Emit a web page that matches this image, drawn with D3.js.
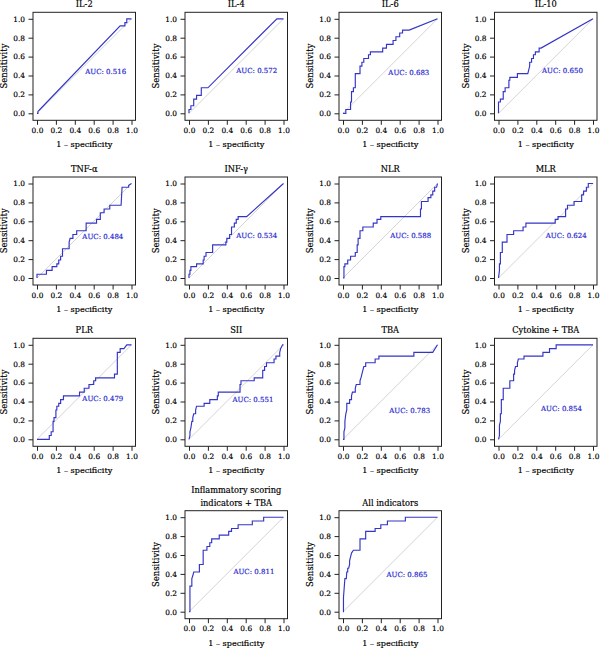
<!DOCTYPE html>
<html><head><meta charset="utf-8">
<script src="https://cdn.jsdelivr.net/npm/d3@7"></script>
<style>body{margin:0;background:#fff}svg{display:block}</style>
</head><body>
<svg id="c" width="600" height="650"></svg>
<script>
// ---------------- DATA ----------------
const titles = ["IL-2","IL-4","IL-6","IL-10","TNF-α","INF-γ","NLR","MLR","PLR","SII","TBA","Cytokine + TBA","Inflammatory scoring\nindicators + TBA","All indicators"];
const aucValues = ["0.516","0.572","0.683","0.650","0.484","0.534","0.588","0.624","0.479","0.551","0.783","0.854","0.811","0.865"];
const xTicks = [0,0.2,0.4,0.6,0.8,1.0];
const yTicks = [0,0.2,0.4,0.6,0.8,1.0];
const xLabel = "1 – specificity";
const yLabel = "Sensitivity";

// ROC points: [1 - specificity, sensitivity]
const rocIL2 = [[0,0],[0.01,0],[0.01,0.02],[0.03,0.04],[0.88,0.925],[0.93,0.925],[0.93,0.96],[0.95,0.96],[0.95,1],[1,1]];
const rocIL4 = [[0,0],[0,0.04],[0.02,0.04],[0.02,0.08],[0.05,0.08],[0.05,0.15],[0.08,0.15],[0.08,0.19],[0.13,0.19],[0.13,0.27],[0.2,0.27],[0.93,1],[1,1]];
const rocIL6 = [[0,0],[0.03,0],[0.03,0.04],[0.08,0.04],[0.08,0.12],[0.09,0.12],[0.09,0.23],[0.11,0.23],[0.11,0.27],[0.13,0.27],[0.13,0.42],[0.18,0.42],[0.18,0.5],[0.2,0.5],[0.2,0.54],[0.22,0.54],[0.22,0.58],[0.27,0.58],[0.27,0.62],[0.29,0.62],[0.29,0.65],[0.42,0.65],[0.42,0.69],[0.46,0.69],[0.46,0.73],[0.53,0.73],[0.53,0.77],[0.56,0.77],[0.56,0.81],[0.6,0.81],[0.6,0.85],[0.63,0.85],[0.63,0.88],[0.7,0.88],[1,1]];
const rocIL10 = [[0,0],[0,0.12],[0.02,0.12],[0.02,0.15],[0.05,0.15],[0.05,0.23],[0.07,0.23],[0.07,0.27],[0.11,0.27],[0.11,0.35],[0.12,0.35],[0.12,0.38],[0.2,0.38],[0.2,0.42],[0.31,0.42],[0.33,0.5],[0.33,0.54],[0.35,0.54],[0.35,0.58],[0.37,0.58],[0.37,0.62],[0.39,0.62],[0.39,0.65],[0.43,0.65],[0.43,0.69],[0.45,0.69],[1,1]];
const rocTNF = [[0,0],[0,0.04],[0.1,0.04],[0.1,0.08],[0.16,0.08],[0.16,0.12],[0.21,0.12],[0.21,0.15],[0.23,0.15],[0.23,0.19],[0.25,0.19],[0.25,0.23],[0.27,0.23],[0.27,0.31],[0.34,0.31],[0.34,0.38],[0.35,0.42],[0.38,0.42],[0.38,0.46],[0.42,0.46],[0.42,0.5],[0.52,0.5],[0.52,0.58],[0.63,0.58],[0.63,0.62],[0.67,0.62],[0.67,0.69],[0.71,0.69],[0.71,0.73],[0.77,0.73],[0.77,0.77],[0.89,0.77],[0.9,0.96],[0.97,0.96],[0.97,0.98],[1,1]];
const rocINF = [[0,0],[0,0.04],[0.01,0.04],[0.01,0.08],[0.02,0.08],[0.02,0.12],[0.08,0.12],[0.08,0.15],[0.15,0.15],[0.15,0.19],[0.16,0.19],[0.16,0.23],[0.18,0.23],[0.18,0.27],[0.25,0.27],[0.25,0.35],[0.39,0.35],[0.39,0.38],[0.4,0.38],[0.4,0.42],[0.43,0.42],[0.43,0.46],[0.45,0.46],[0.45,0.54],[0.48,0.54],[0.48,0.58],[0.5,0.58],[0.5,0.62],[0.52,0.62],[0.52,0.65],[0.61,0.65],[1,1]];
const rocNLR = [[0,0],[0.01,0],[0.01,0.12],[0.02,0.12],[0.02,0.15],[0.05,0.15],[0.05,0.19],[0.08,0.19],[0.08,0.23],[0.13,0.23],[0.13,0.27],[0.15,0.27],[0.15,0.35],[0.16,0.35],[0.16,0.42],[0.18,0.42],[0.18,0.5],[0.21,0.5],[0.21,0.54],[0.32,0.54],[0.32,0.58],[0.36,0.58],[0.36,0.62],[0.4,0.62],[0.4,0.65],[0.82,0.65],[0.82,0.73],[0.83,0.73],[0.83,0.81],[0.9,0.81],[0.9,0.85],[0.93,0.85],[0.93,0.88],[0.95,0.88],[0.95,0.92],[0.97,0.92],[0.97,0.96],[0.99,0.96],[1,1]];
const rocMLR = [[0,0],[0.01,0.08],[0.01,0.15],[0.02,0.15],[0.02,0.27],[0.04,0.27],[0.04,0.38],[0.09,0.38],[0.09,0.46],[0.16,0.46],[0.16,0.5],[0.26,0.5],[0.26,0.54],[0.29,0.54],[0.29,0.58],[0.6,0.58],[0.6,0.62],[0.63,0.62],[0.63,0.65],[0.71,0.65],[0.71,0.73],[0.73,0.73],[0.73,0.77],[0.8,0.77],[0.8,0.81],[0.88,0.81],[0.88,0.88],[0.9,0.88],[0.9,0.92],[0.93,0.92],[0.93,0.96],[0.95,0.96],[0.95,1],[1,1]];
const rocPLR = [[0,0],[0.13,0],[0.13,0.04],[0.15,0.04],[0.15,0.08],[0.17,0.08],[0.17,0.19],[0.18,0.19],[0.18,0.23],[0.2,0.23],[0.2,0.31],[0.21,0.31],[0.21,0.35],[0.23,0.35],[0.23,0.38],[0.25,0.38],[0.25,0.42],[0.28,0.42],[0.28,0.46],[0.45,0.46],[0.45,0.5],[0.5,0.5],[0.5,0.54],[0.55,0.54],[0.55,0.58],[0.6,0.58],[0.6,0.62],[0.62,0.62],[0.62,0.65],[0.82,0.65],[0.82,0.69],[0.85,0.69],[0.85,0.92],[0.88,0.92],[0.88,0.96],[0.92,0.96],[0.95,1],[1,1]];
const rocSII = [[0,0],[0.01,0.04],[0.01,0.08],[0.02,0.12],[0.03,0.19],[0.04,0.19],[0.04,0.23],[0.05,0.27],[0.07,0.27],[0.07,0.31],[0.08,0.35],[0.16,0.35],[0.16,0.38],[0.22,0.38],[0.22,0.42],[0.3,0.42],[0.3,0.46],[0.31,0.46],[0.31,0.5],[0.54,0.5],[0.54,0.58],[0.55,0.58],[0.55,0.62],[0.69,0.62],[0.69,0.65],[0.78,0.65],[0.78,0.73],[0.8,0.73],[0.8,0.77],[0.82,0.77],[0.82,0.81],[0.9,0.81],[0.9,0.85],[0.92,0.85],[0.92,0.88],[0.96,0.88],[0.96,0.92],[0.97,0.96],[0.99,1],[1,1]];
const rocTBA = [[0,0],[0.01,0],[0.01,0.08],[0.02,0.12],[0.02,0.19],[0.03,0.27],[0.04,0.31],[0.04,0.38],[0.07,0.38],[0.07,0.42],[0.09,0.42],[0.09,0.46],[0.1,0.5],[0.13,0.5],[0.13,0.54],[0.14,0.58],[0.18,0.58],[0.18,0.62],[0.19,0.65],[0.2,0.69],[0.21,0.73],[0.22,0.77],[0.24,0.77],[0.24,0.81],[0.34,0.81],[0.34,0.85],[0.38,0.85],[0.38,0.88],[0.75,0.88],[0.75,0.92],[0.95,0.92],[1,1]];
const rocCytoTBA = [[0,0],[0.01,0.04],[0.01,0.15],[0.02,0.19],[0.02,0.27],[0.03,0.27],[0.03,0.42],[0.05,0.42],[0.05,0.54],[0.12,0.54],[0.12,0.62],[0.16,0.62],[0.16,0.69],[0.17,0.69],[0.17,0.73],[0.18,0.77],[0.2,0.77],[0.2,0.81],[0.21,0.85],[0.27,0.85],[0.27,0.88],[0.47,0.88],[0.47,0.92],[0.54,0.92],[0.54,0.96],[0.61,0.96],[0.61,1],[1,1]];
const rocInflTBA = [[0,0],[0.01,0],[0.01,0.27],[0.03,0.27],[0.03,0.35],[0.04,0.38],[0.05,0.42],[0.11,0.42],[0.11,0.5],[0.15,0.5],[0.15,0.65],[0.19,0.65],[0.19,0.69],[0.22,0.69],[0.22,0.73],[0.24,0.73],[0.24,0.77],[0.32,0.77],[0.32,0.81],[0.42,0.81],[0.42,0.85],[0.45,0.85],[0.45,0.88],[0.52,0.88],[0.52,0.92],[0.67,0.92],[0.67,0.96],[0.79,0.96],[0.79,1],[1,1]];
const rocAll = [[0,0],[0.005,0],[0.005,0.15],[0.02,0.35],[0.035,0.35],[0.04,0.42],[0.05,0.42],[0.05,0.46],[0.06,0.46],[0.07,0.5],[0.07,0.54],[0.08,0.58],[0.09,0.62],[0.11,0.65],[0.18,0.65],[0.18,0.77],[0.24,0.77],[0.24,0.85],[0.34,0.85],[0.34,0.88],[0.4,0.88],[0.4,0.92],[0.47,0.92],[0.47,0.96],[0.66,0.96],[0.66,1],[1,1]];

const curves = [rocIL2,rocIL4,rocIL6,rocIL10,rocTNF,rocINF,rocNLR,rocMLR,rocPLR,rocSII,rocTBA,rocCytoTBA,rocInflTBA,rocAll];

// ---------------- LAYOUT ----------------
const panelCol = [0,1,2,3,0,1,2,3,0,1,2,3,1,2];
const panelRow = [0,0,0,0,1,1,1,1,2,2,2,2,3,3];
const colX0 = [37,189,343,498.5];
const rowY0 = [113.3,278,439.3,611.7];
const unit = 94.5;
const aucLabelX = [0.51,0.50,0.48,0.46,0.48,0.50,0.50,0.50,0.48,0.46,0.49,0.45,0.47,0.46];
const aucLabelY = [0.44,0.45,0.43,0.45,0.44,0.45,0.45,0.45,0.43,0.42,0.30,0.33,0.43,0.39];

const FONT = "'DejaVu Serif', serif";
const curveColor = "#3434c6";
const aucColor = "#2626d0";

const svg = d3.select("#c");

function fitSize(str, target) {
  const t = svg.append("text").attr("font-family", FONT).attr("font-size", 10).text(str);
  const w = t.node().getComputedTextLength();
  t.remove();
  return w > 0 ? 10 * target / w : 8;
}
const tickFont = fitSize("0.0", 11.8);
const xLabFont = fitSize(xLabel, 56);
const yLabFont = fitSize(yLabel, 45);
const titleFont = fitSize("Cytokine + TBA", 67);
const aucFont = fitSize("AUC: 0.516", 41);

function styleText(sel, size, color) {
  sel.attr("font-family", FONT).attr("font-size", size).attr("fill", color)
     .attr("stroke", color).attr("stroke-width", 0.18);
}

titles.forEach((title, i) => {
  const x0 = colX0[panelCol[i]], y0 = rowY0[panelRow[i]];
  const x = d3.scaleLinear().domain([0,1]).range([x0, x0 + unit]);
  const y = d3.scaleLinear().domain([0,1]).range([y0, y0 - unit]);
  const left = x(0) - 4, right = x(1) + 4, top = y(1) - 6.5, bottom = y(0) + 7;
  const g = svg.append("g");

  g.append("line")
    .attr("x1", x(0)).attr("y1", y(0)).attr("x2", x(1)).attr("y2", y(1))
    .attr("stroke", "#d4d4d4").attr("stroke-width", 1);

  g.append("path")
    .datum(curves[i])
    .attr("fill", "none")
    .attr("stroke", curveColor)
    .attr("stroke-width", 1.15)
    .attr("d", d3.line().x(d => x(d[0])).y(d => y(d[1])));

  g.append("rect")
    .attr("x", left).attr("y", top)
    .attr("width", right - left).attr("height", bottom - top)
    .attr("fill", "none").attr("stroke", "#222").attr("stroke-width", 1);

  const ax = g.append("g").attr("transform", `translate(0,${bottom})`)
    .call(d3.axisBottom(x).tickValues(xTicks).tickFormat(d3.format(".1f")).tickSize(4.5).tickPadding(3));
  const ay = g.append("g").attr("transform", `translate(${left},0)`)
    .call(d3.axisLeft(y).tickValues(yTicks).tickFormat(d3.format(".1f")).tickSize(4.5).tickPadding(3.5));
  [ax, ay].forEach(a => {
    a.select(".domain").remove();
    a.selectAll(".tick line").attr("stroke", "#222");
    styleText(a.selectAll(".tick text"), tickFont, "#000");
  });

  styleText(g.append("text")
    .attr("x", (x(0) + x(1)) / 2).attr("y", bottom + 27)
    .attr("text-anchor", "middle")
    .text(xLabel), xLabFont, "#000");
  styleText(g.append("text")
    .attr("transform", `translate(${left - 26},${(y(0) + y(1)) / 2}) rotate(-90)`)
    .attr("text-anchor", "middle")
    .text(yLabel), yLabFont, "#000");

  const lines = title.split("\n");
  lines.forEach((ln, k) => {
    styleText(g.append("text")
      .attr("x", (left + right) / 2)
      .attr("y", top - 5 - (lines.length - 1 - k) * 12.5)
      .attr("text-anchor", "middle")
      .text(ln), titleFont, "#000");
  });

  styleText(g.append("text")
    .attr("x", x(aucLabelX[i])).attr("y", y(aucLabelY[i]))
    .attr("dy", "0.35em")
    .text("AUC: " + aucValues[i]), aucFont, aucColor);
});
</script>
</body></html>
